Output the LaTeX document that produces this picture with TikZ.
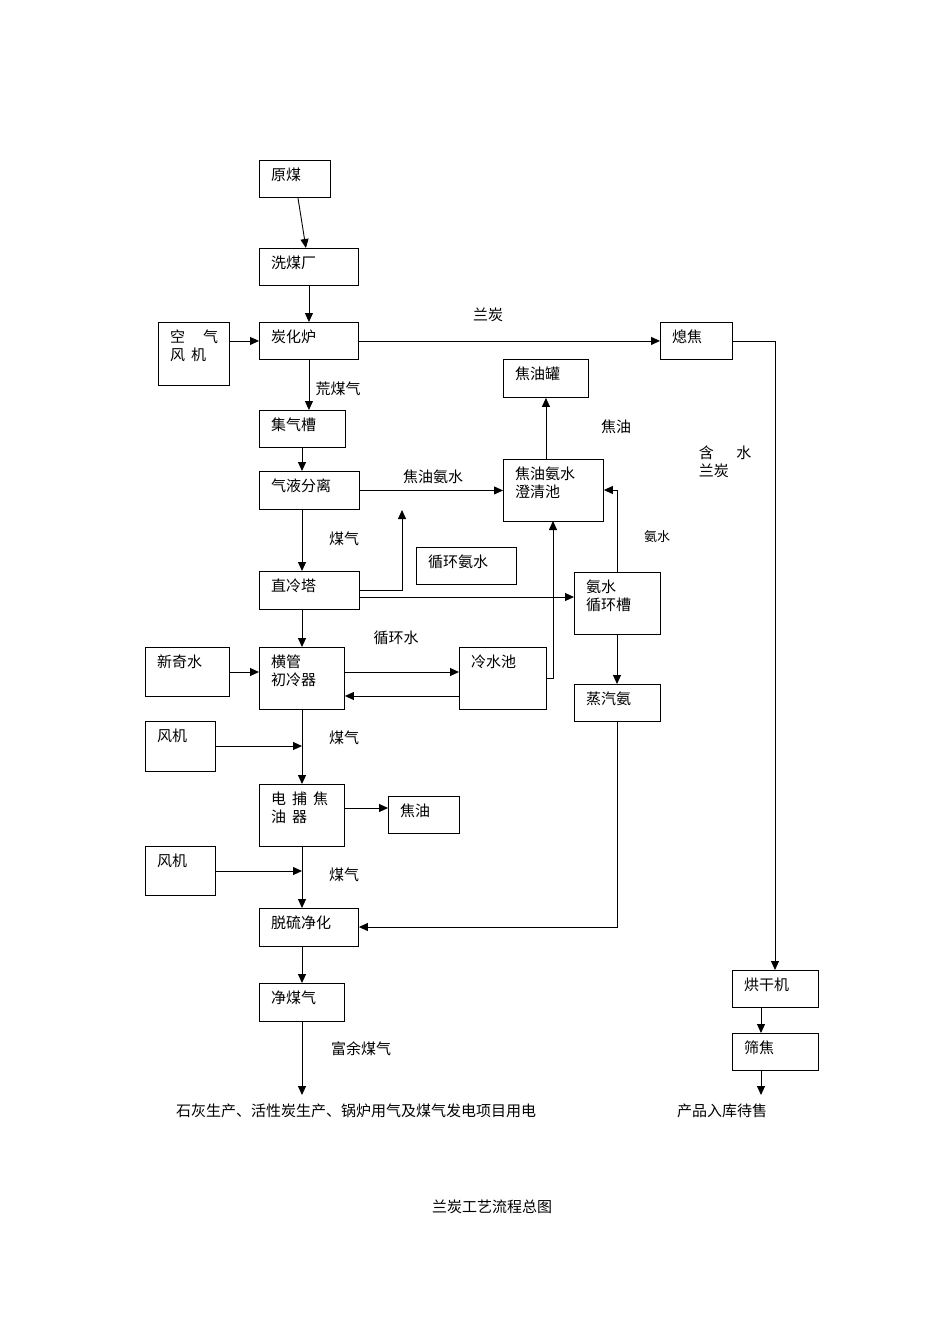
\documentclass[tikz,border=0pt]{standalone}
\usepackage{fontspec}
\setmainfont{Noto Sans CJK SC}
\usetikzlibrary{arrows.meta}
\begin{document}
\begin{tikzpicture}[x=1pt,y=-1pt,
  bx/.style={draw,line width=0.9pt,inner sep=0pt},
  ln/.style={line width=0.9pt},
  ar/.style={line width=0.9pt,-{Triangle[length=9pt,width=8pt]}},
  lb/.style={font=\fontsize{15}{18}\selectfont,inner sep=0pt}]
\fontsize{15}{18}\selectfont
\useasboundingbox (0,0) rectangle (950,1344);
\newcommand\bx[6]{\node[bx,minimum width={#4-#2},minimum height={#5-#3},anchor=north west] (#1) at (#2,#3) {};
  \node[lb,anchor=north west,align=left] at (#2+12,#3+8) {#6};}
\bx{ym}{259}{160}{330}{197}{原煤}
\bx{xmc}{259}{248}{358}{285}{洗煤厂}
\bx{kq}{158}{322}{229}{385}{空\hspace{1.2em}气\\风\hspace{0.4em}机}
\bx{thl}{259}{322}{358}{359}{炭化炉}
\bx{xj}{660}{322}{732}{359}{熄焦}
\bx{jyg}{503}{359}{588}{397}{焦油罐}
\bx{jqc}{259}{410}{345}{447}{集气槽}
\bx{qy}{259}{471}{359}{509}{气液分离}
\bx{cq}{503}{459}{603}{521}{焦油氨水\\澄清池}
\bx{zlt}{259}{571}{359}{609}{直冷塔}
\bx{xhas}{416}{547}{516}{584}{循环氨水}
\bx{ascao}{574}{572}{660}{634}{氨水\\循环槽}
\bx{xqs}{145}{647}{229}{696}{新奇水}
\bx{hg}{259}{647}{344}{709}{横管\\初冷器}
\bx{lsc}{459}{647}{546}{709}{冷水池}
\bx{zqa}{574}{684}{660}{721}{蒸汽氨}
\bx{fj1}{145}{721}{215}{771}{风机}
\bx{dbj}{259}{784}{344}{846}{电\hspace{0.4em}捕\hspace{0.4em}焦\\油\hspace{0.4em}器}
\bx{jy}{388}{796}{459}{833}{焦油}
\bx{fj2}{145}{846}{215}{895}{风机}
\bx{tl}{259}{908}{358}{946}{脱硫净化}
\bx{jmq}{259}{983}{344}{1021}{净煤气}
\bx{hgj}{732}{970}{818}{1007}{烘干机}
\bx{sj}{732}{1033}{818}{1070}{筛焦}
% labels
\node[lb] at (488,315) {兰炭};
\node[lb] at (338,389) {荒煤气};
\node[lb] at (433,477) {焦油氨水};
\node[lb] at (616,427) {焦油};
\node[lb] at (344,539) {煤气};
\node[lb,font=\fontsize{13}{15}\selectfont] at (657,537) {氨水};
\node[lb] at (396,638) {循环水};
\node[lb] at (344,738) {煤气};
\node[lb] at (344,875) {煤气};
\node[lb] at (361,1049) {富余煤气};
\node[lb,align=left] at (725,462) {含\hspace{1.5em}水\\兰炭};
\node[lb] (out1) at (356,1111) {石灰生产、活性炭生产、锅炉用气及煤气发电项目用电};
\node[lb] (out2) at (722,1111) {产品入库待售};
\node[lb] (title) at (492,1207) {兰炭工艺流程总图};
\coordinate (e1) at (302,1095);
\coordinate (e2) at (761,1095);
% connectors
\draw[ar] (ym) -- (xmc);
\draw[ar] (xmc) -- (thl);
\draw[ar] (kq.east|-thl) -- (thl);
\draw[ar] (thl.east) -- (xj.west);
\draw[ar] (thl) -- (jqc.north-|thl);
\draw[ar] (jqc.south-|302,0) -- (302,471);
\draw[ar] (qy) -- (cq.west|-qy);
\draw[ar] (cq.north-|jyg) -- (jyg);
\draw[ar] (qy.south-|302,0) -- (302,571);
\draw[ar] (359,590) -- (402,590) -- (402,510);
\draw[ar] (359,597) -- (ascao.west|-0,597);
\draw[ar] (617,572) -- (617,490) -- (cq.east|-0,490);
\draw[ar] (zlt.south-|302,0) -- (302,647);
\draw[ar] (344,672) -- (lsc.west|-0,672);
\draw[ar] (459,696) -- (hg.east|-0,696);
\draw[ar] (546,678) -- (553,678) -- (553,521);
\draw[ar] (ascao.south-|617,0) -- (617,684);
\draw[ar] (xqs.east|-0,672) -- (hg.west|-0,672);
\draw[ar] (hg.south-|302,0) -- (302,784);
\draw[ar] (fj1.east|-0,746) -- (302,746);
\draw[ar] (344,808) -- (jy.west|-0,808);
\draw[ar] (dbj.south-|302,0) -- (302,908);
\draw[ar] (fj2.east|-0,871) -- (302,871);
\draw[ar] (617,721) -- (617,927) -- (tl.east|-0,927);
\draw[ar] (tl.south-|302,0) -- (302,983);
\draw[ar] (jmq.south-|302,0) -- (e1);
\draw[ar] (xj.east|-0,341) -- (775,341) -- (hgj.north-|775,0);
\draw[ar] (hgj.south-|761,0) -- (761,1033);
\draw[ar] (sj.south-|761,0) -- (e2);
\end{tikzpicture}
\end{document}
